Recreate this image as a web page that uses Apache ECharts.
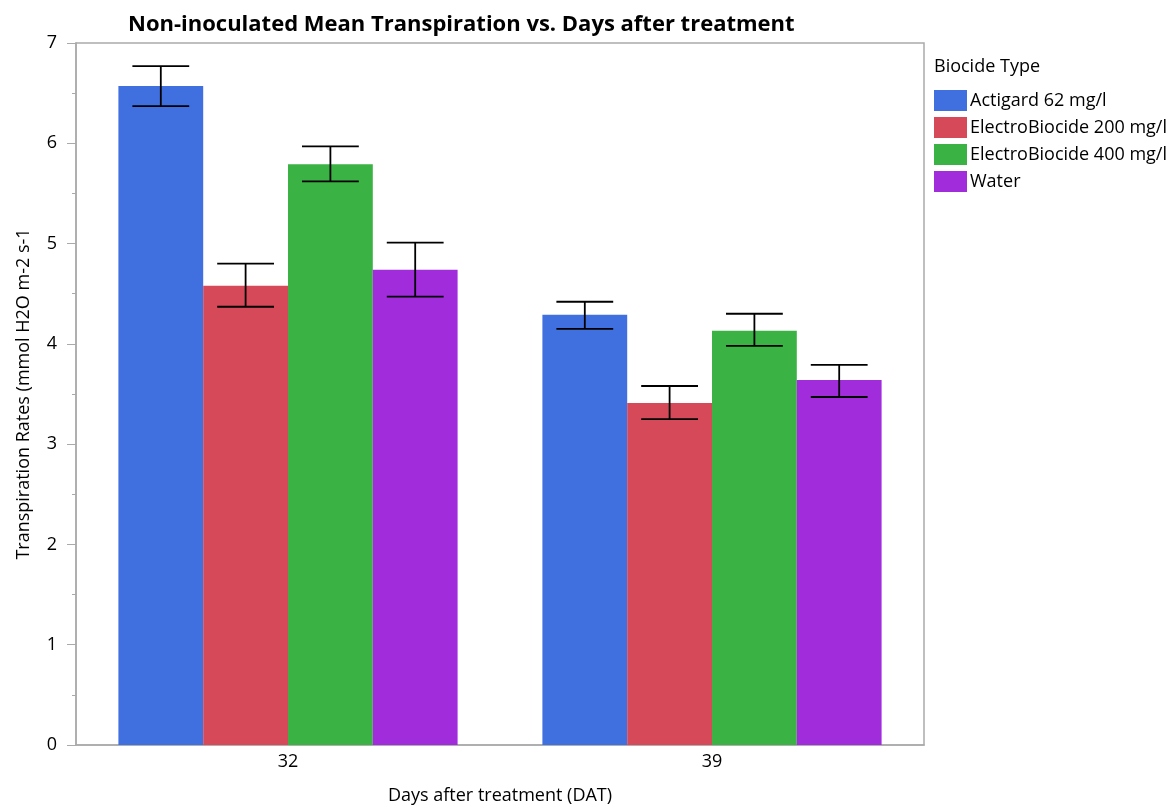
<!DOCTYPE html>
<html>
<head>
<meta charset="utf-8">
<script src="https://cdn.jsdelivr.net/npm/echarts@6/dist/echarts.min.js"></script>
<style>
html,body{margin:0;padding:0;background:#fff;}
#chart{width:1175px;height:805px;}
</style>
</head>
<body>
<div id="chart"></div>
<script>
var categories = ['32', '39'];
var seriesNames = ['Actigard 62 mg/l', 'ElectroBiocide 200 mg/l', 'ElectroBiocide 400 mg/l', 'Water'];
var colors = ['#4070DF', '#D54959', '#3AB244', '#A12CDB'];
var actigard = [6.57, 4.29];
var electro200 = [4.58, 3.41];
var electro400 = [5.79, 4.13];
var water = [4.74, 3.64];
var actigardErr = [[6.37, 6.77], [4.15, 4.42]];
var electro200Err = [[4.37, 4.80], [3.25, 3.58]];
var electro400Err = [[5.62, 5.97], [3.98, 4.30]];
var waterErr = [[4.47, 5.01], [3.47, 3.79]];
var yTicks = [0, 1, 2, 3, 4, 5, 6, 7];

var values = [actigard, electro200, electro400, water];
var errs = [actigardErr, electro200Err, electro400Err, waterErr];
var FONT = 'Open Sans';
var BAR_GAP_CAT = 0.2;

var chart = echarts.init(document.getElementById('chart'));
var series = [];
values.forEach(function (v, i) {
  series.push({
    name: seriesNames[i],
    type: 'bar',
    data: v,
    barGap: '0%',
    barCategoryGap: '20%',
    itemStyle: { color: colors[i] },
    emphasis: { disabled: true }
  });
});
errs.forEach(function (e, i) {
  series.push({
    type: 'custom',
    name: seriesNames[i] + ' err',
    z: 10,
    silent: true,
    data: e.map(function (d, k) { return [k, d[0], d[1]]; }),
    renderItem: function (params, api) {
      var band = api.size([1, 0])[0];
      var bw = band * (1 - BAR_GAP_CAT) / values.length;
      var off = (i - (values.length - 1) / 2) * bw;
      var lo = api.coord([api.value(0), api.value(1)]);
      var hi = api.coord([api.value(0), api.value(2)]);
      var x = lo[0] + off;
      var hw = bw * 0.335;
      var style = { stroke: '#000', lineWidth: 1.8 };
      return {
        type: 'group',
        children: [
          { type: 'line', shape: { x1: x, y1: lo[1], x2: x, y2: hi[1] }, style: style },
          { type: 'line', shape: { x1: x - hw, y1: lo[1], x2: x + hw, y2: lo[1] }, style: style },
          { type: 'line', shape: { x1: x - hw, y1: hi[1], x2: x + hw, y2: hi[1] }, style: style }
        ]
      };
    }
  });
});

chart.setOption({
  animation: false,
  backgroundColor: '#fff',
  textStyle: { fontFamily: FONT },
  title: {
    text: 'Non-inoculated Mean Transpiration vs. Days after treatment',
    left: 128, top: 14, padding: 0,
    textStyle: { fontFamily: FONT, fontSize: 22, fontWeight: 'bold', color: '#000' }
  },
  legend: {
    orient: 'vertical',
    left: 934, top: 90, padding: 0,
    itemWidth: 33, itemHeight: 21, itemGap: 6,
    icon: 'rect',
    data: seriesNames,
    textStyle: { fontFamily: FONT, fontSize: 18, lineHeight: 21, color: '#000', padding: [0, 0, 0, -2] }
  },
  graphic: [{
    type: 'text', left: 934, top: 58,
    style: { text: 'Biocide Type', fontFamily: FONT, fontSize: 18, fill: '#000' }
  }],
  grid: {
    left: 76, right: 251, top: 43, bottom: 60,
    outerBoundsMode: 'none',
    containLabel: false,
    show: true, borderColor: '#aaa', borderWidth: 1.5, backgroundColor: 'transparent'
  },
  xAxis: {
    type: 'category',
    data: categories,
    name: 'Days after treatment (DAT)',
    nameLocation: 'middle', nameGap: 42,
    nameTextStyle: { fontFamily: FONT, fontSize: 18, color: '#000' },
    axisLine: { lineStyle: { color: '#aaa', width: 1.5 } },
    axisTick: { show: false },
    axisLabel: { fontFamily: FONT, fontSize: 18, color: '#000', margin: 8 }
  },
  yAxis: {
    type: 'value',
    min: yTicks[0], max: yTicks[yTicks.length - 1], interval: 1,
    name: 'Transpiration Rates (mmol H2O m-2 s-1',
    nameLocation: 'middle', nameGap: 43,
    nameTextStyle: { fontFamily: FONT, fontSize: 18, color: '#000' },
    axisLine: { show: true, lineStyle: { color: '#aaa', width: 1.5 } },
    axisTick: { show: true, length: 9, lineStyle: { color: '#aaa' } },
    minorTick: { show: true, splitNumber: 2, length: 4, lineStyle: { color: '#aaa' } },
    splitLine: { show: false },
    axisLabel: { fontFamily: FONT, fontSize: 18, color: '#000', margin: 19 }
  },
  series: series
});
</script>
</body>
</html>
